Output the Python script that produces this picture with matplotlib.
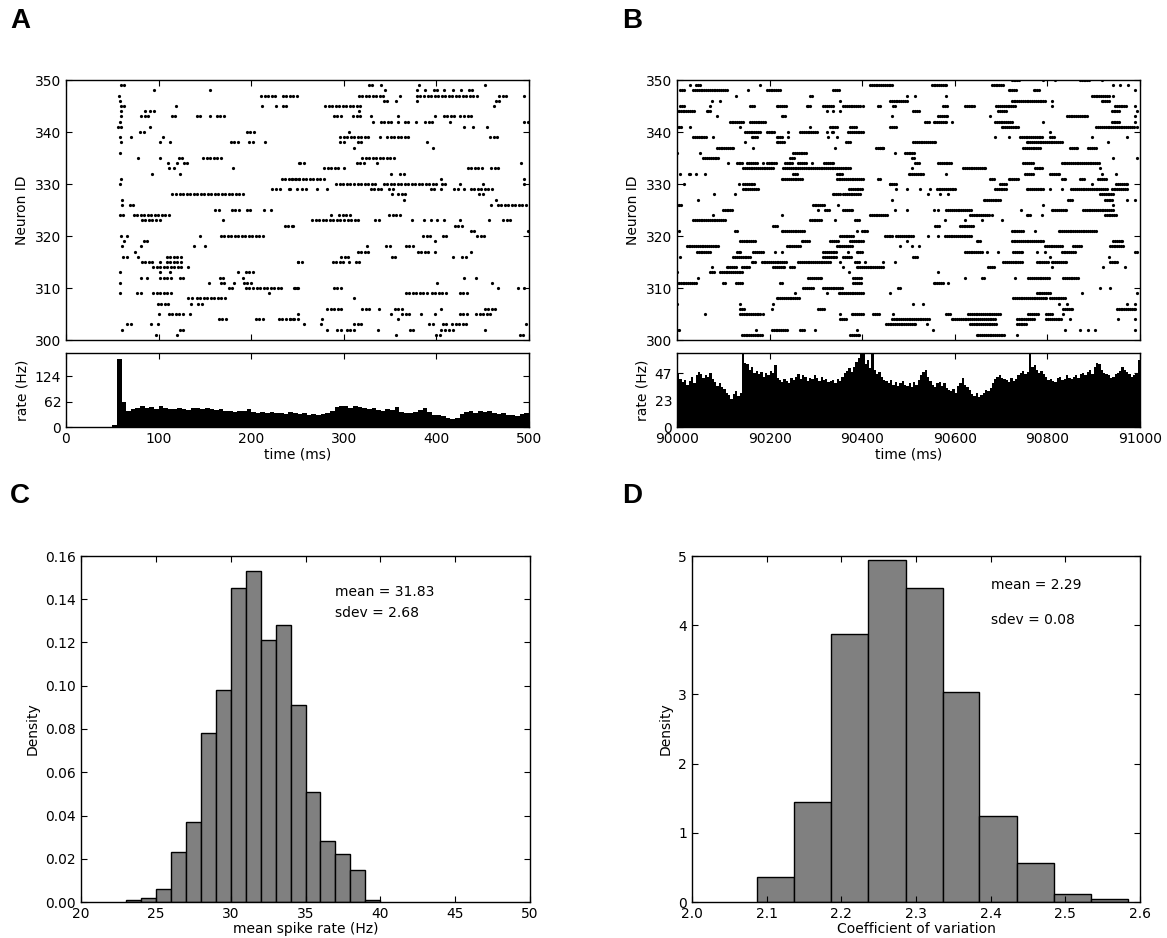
import numpy as np
import matplotlib
matplotlib.use("Agg")
import matplotlib.pyplot as plt
from matplotlib.ticker import FormatStrFormatter

# --- raster A: spike runs (neuron id, first spike ms, last spike ms) ---
raster_a_bursts = [
    (349, 59, 63), (348, 95, 95), (348, 156, 156), (347, 57, 57), (347, 211, 227), (347, 234, 250),
    (346, 58, 58), (345, 59, 64), (345, 119, 119), (345, 212, 212), (345, 227, 227), (345, 234, 239),
    (344, 59, 59), (344, 85, 85), (344, 91, 96), (343, 59, 59), (343, 81, 91), (343, 114, 121),
    (343, 141, 146), (343, 155, 155), (343, 163, 172), (342, 58, 58), (341, 56, 62), (341, 91, 91),
    (340, 80, 84), (340, 195, 203), (339, 58, 58), (339, 70, 70), (339, 105, 105), (338, 59, 59),
    (338, 102, 105), (338, 112, 112), (338, 178, 187), (338, 198, 203), (338, 215, 215), (336, 58, 58),
    (335, 78, 78), (335, 101, 101), (335, 122, 128), (335, 148, 167), (334, 110, 110), (334, 120, 120),
    (334, 127, 131), (334, 252, 252), (333, 111, 111), (333, 117, 117), (333, 180, 180), (332, 93, 93),
    (332, 123, 123), (331, 59, 59), (331, 233, 252), (330, 58, 58), (329, 223, 232), (329, 241, 241),
    (328, 115, 192), (327, 60, 60), (326, 60, 60), (326, 69, 76), (325, 161, 165), (325, 179, 188),
    (325, 195, 199), (325, 214, 214), (325, 221, 221), (324, 58, 62), (324, 73, 111),
    (323, 82, 104), (323, 170, 170), (322, 236, 245), (320, 59, 59), (320, 66, 66), (320, 145, 145),
    (320, 167, 215), (319, 63, 66), (319, 84, 91), (318, 60, 60), (318, 81, 81), (318, 138, 138),
    (318, 150, 150), (317, 75, 78), (316, 62, 67), (316, 78, 78), (316, 109, 124), (315, 82, 96),
    (315, 102, 102), (315, 109, 124), (315, 251, 251), (314, 94, 125), (314, 132, 132), (313, 58, 58),
    (313, 102, 105), (313, 112, 112), (313, 186, 186), (313, 194, 203), (312, 81, 81), (312, 87, 87),
    (312, 102, 114), (312, 123, 130), (312, 166, 170), (312, 191, 191), (311, 58, 58), (311, 154, 154),
    (311, 167, 173), (311, 181, 181), (311, 192, 201), (310, 176, 183), (310, 194, 202), (310, 206, 234),
    (310, 246, 251), (309, 58, 58), (309, 77, 84), (309, 94, 113), (309, 219, 219), (308, 132, 136),
    (308, 141, 172), (307, 99, 110), (307, 135, 135), (307, 143, 147), (305, 100, 100), (305, 111, 122),
    (305, 126, 126), (305, 134, 134), (304, 165, 174), (304, 205, 214), (304, 230, 246), (304, 251, 251),
    (303, 66, 73), (303, 92, 92), (303, 99, 99), (302, 61, 61), (302, 123, 129), (301, 97, 97),
    (301, 120, 120),
    (349, 327, 331), (349, 340, 340), (349, 381, 381), (349, 452, 452), (348, 345, 348), (348, 379, 379),
    (348, 388, 388), (348, 397, 404), (348, 408, 408), (348, 418, 418), (348, 427, 427), (348, 435, 439),
    (347, 316, 344), (347, 361, 361), (347, 379, 446), (347, 468, 478), (347, 495, 495), (346, 343, 347),
    (346, 356, 356), (346, 379, 379), (346, 464, 469), (345, 280, 318), (345, 462, 462), (344, 316, 316),
    (343, 289, 297), (343, 310, 318), (343, 329, 329), (343, 359, 359), (343, 398, 398), (343, 408, 419),
    (343, 426, 437), (342, 331, 331), (342, 340, 352), (342, 359, 359), (342, 366, 371), (342, 378, 381),
    (342, 388, 397), (342, 415, 415), (342, 495, 499), (341, 430, 430), (341, 439, 439), (341, 455, 455),
    (340, 306, 309), (339, 296, 328), (339, 339, 339), (339, 347, 372), (339, 458, 467), (338, 296, 300),
    (338, 315, 319), (338, 390, 390), (337, 311, 311), (337, 396, 396), (335, 320, 354), (334, 253, 257),
    (334, 314, 324), (334, 336, 336), (334, 491, 491), (333, 279, 295), (333, 300, 300), (333, 434, 452),
    (333, 459, 467), (332, 351, 354), (332, 361, 365), (331, 244, 281), (331, 405, 405), (331, 495, 495),
    (330, 292, 337), (330, 343, 401), (330, 406, 410), (330, 425, 428), (330, 450, 450), (330, 495, 495),
    (329, 242, 242), (329, 249, 249), (329, 255, 259), (329, 271, 271), (329, 282, 282), (329, 329, 343),
    (329, 349, 354), (329, 394, 398), (329, 405, 405), (329, 419, 423), (329, 430, 430), (329, 437, 461),
    (328, 352, 352), (328, 359, 368), (328, 446, 451), (327, 365, 365), (327, 464, 464), (326, 459, 459),
    (326, 466, 498), (324, 286, 286), (324, 295, 306), (324, 349, 360),
    (323, 266, 318), (323, 334, 339), (323, 374, 374), (323, 387, 387), (323, 394, 394), (323, 401, 401),
    (323, 408, 408), (323, 425, 428), (323, 457, 457), (323, 472, 481), (322, 245, 245), (322, 420, 429),
    (321, 437, 442), (321, 499, 499), (320, 386, 394), (320, 407, 414), (320, 444, 453), (319, 399, 399),
    (318, 325, 325), (318, 346, 350), (318, 367, 376), (317, 315, 328), (317, 380, 393), (317, 399, 399),
    (317, 437, 437), (316, 297, 307), (316, 352, 358), (316, 418, 418), (316, 428, 434), (315, 251, 257),
    (315, 288, 302), (315, 306, 306), (315, 313, 318), (312, 430, 430), (312, 443, 443), (311, 401, 401),
    (311, 460, 460), (310, 247, 253), (310, 289, 298), (310, 466, 466), (310, 488, 488), (310, 495, 495),
    (309, 367, 390), (309, 395, 410), (309, 425, 434), (308, 311, 311), (306, 282, 300), (306, 320, 329),
    (306, 338, 338), (306, 355, 365), (306, 405, 405), (306, 452, 464), (305, 250, 253), (305, 351, 351),
    (305, 363, 371), (305, 383, 383), (305, 398, 398), (305, 425, 434), (305, 443, 461), (304, 242, 249),
    (304, 276, 276), (304, 358, 358), (303, 257, 257), (303, 275, 275), (303, 311, 320), (303, 392, 397),
    (303, 407, 412), (303, 417, 433), (303, 497, 497), (302, 282, 282), (302, 293, 297), (302, 303, 311),
    (302, 337, 337), (302, 371, 376), (302, 405, 409), (302, 414, 418), (302, 452, 452), (301, 356, 356),
    (301, 400, 404), (301, 490, 494),
]

# --- raster B: same layout, times in ms after 90000 ---
raster_b_start = 90000
raster_b_bursts = [
    (349, 28, 28), (349, 42, 50), (349, 179, 179), (348, 7, 17), (348, 35, 107), (348, 154, 154),
    (348, 194, 222), (348, 338, 353), (349, 417, 467), (347, 128, 128), (347, 287, 294), (346, 75, 75),
    (346, 93, 93), (346, 352, 352), (345, 7, 17), (345, 71, 71), (345, 158, 168), (345, 215, 237),
    (345, 280, 290), (345, 316, 338), (345, 359, 395), (345, 402, 402), (345, 435, 435), (344, 0, 39),
    (344, 64, 75), (344, 323, 323), (344, 338, 338), (344, 353, 353), (343, 87, 87), (343, 226, 237),
    (342, 114, 143), (342, 158, 190), (341, 0, 10), (341, 27, 27), (341, 135, 135), (341, 287, 287),
    (341, 330, 348), (341, 374, 388), (340, 147, 179), (340, 194, 212), (340, 240, 240), (340, 266, 305),
    (340, 325, 325), (340, 334, 341), (340, 370, 402), (339, 35, 64), (339, 77, 77), (339, 161, 176),
    (339, 215, 230), (339, 240, 240), (339, 327, 327), (339, 345, 345), (338, 147, 147), (338, 215, 233),
    (338, 366, 377), (337, 86, 125), (337, 165, 165), (337, 341, 341), (337, 430, 446), (336, 0, 0),
    (336, 50, 50), (336, 251, 280), (335, 57, 89), (335, 244, 255), (334, 111, 111), (334, 129, 143),
    (334, 152, 172), (334, 185, 185), (334, 194, 215), (334, 233, 251), (334, 262, 280), (334, 291, 294),
    (334, 318, 338), (333, 143, 208), (333, 230, 374), (332, 7, 7), (332, 25, 32), (332, 41, 41),
    (332, 61, 61), (332, 251, 262), (332, 345, 359), (331, 226, 273), (331, 345, 402), (331, 435, 435),
    (330, 15, 15), (330, 133, 133), (330, 143, 168), (330, 459, 459), (329, 142, 176), (329, 372, 402),
    (328, 80, 80), (328, 125, 125), (328, 336, 352), (328, 359, 395), (327, 46, 46), (326, 0, 10),
    (326, 293, 320), (326, 348, 348), (325, 99, 122), (325, 305, 305), (325, 320, 330), (325, 359, 381),
    (349, 550, 582), (349, 680, 705), (350, 723, 741), (350, 791, 791), (350, 816, 816), (350, 870, 892),
    (350, 917, 917), (349, 942, 942), (349, 957, 957), (349, 975, 975), (348, 716, 734), (348, 770, 784),
    (348, 989, 989), (347, 496, 496), (347, 514, 514), (347, 582, 582), (347, 896, 935), (347, 942, 942),
    (346, 460, 496), (346, 723, 798), (346, 809, 809), (346, 917, 935), (345, 438, 438), (345, 467, 474),
    (345, 575, 586), (345, 622, 644), (345, 690, 730), (345, 809, 809), (345, 946, 971), (345, 989, 989),
    (344, 510, 525), (344, 694, 712), (344, 939, 957), (344, 993, 993), (343, 464, 464), (343, 564, 586),
    (343, 676, 676), (343, 842, 888), (343, 989, 989), (342, 536, 546), (342, 554, 582), (342, 593, 593),
    (342, 687, 726), (342, 791, 791), (342, 939, 957), (342, 989, 989), (341, 460, 474), (341, 701, 737),
    (341, 906, 986), (341, 993, 993), (340, 806, 806), (339, 687, 687), (339, 716, 716), (339, 741, 791),
    (339, 806, 816), (339, 896, 896), (339, 971, 971), (338, 510, 561), (338, 755, 831), (338, 931, 931),
    (337, 438, 446), (337, 748, 784), (337, 849, 867), (337, 888, 906), (336, 471, 471), (336, 492, 514),
    (335, 507, 514), (335, 942, 942), (335, 993, 993), (334, 514, 525), (334, 564, 593), (334, 748, 770),
    (334, 831, 914), (333, 507, 507), (333, 618, 669), (333, 773, 791), (333, 914, 914), (332, 500, 532),
    (332, 582, 582), (332, 752, 770), (332, 806, 827), (332, 917, 917), (332, 949, 949), (331, 438, 438),
    (331, 676, 687), (331, 716, 737), (331, 831, 842), (331, 870, 881), (331, 910, 928), (330, 460, 474),
    (330, 698, 712), (330, 896, 896), (330, 949, 975), (329, 474, 474), (329, 496, 496), (329, 525, 525),
    (329, 546, 546), (329, 561, 604), (329, 687, 712), (329, 755, 791), (329, 806, 806), (329, 831, 831),
    (329, 852, 928), (329, 939, 971), (328, 543, 543), (328, 568, 568), (328, 586, 586), (328, 914, 942),
    (327, 464, 464), (327, 662, 701), (327, 845, 856), (327, 924, 942), (327, 971, 971), (327, 989, 989),
    (326, 791, 791), (326, 942, 942), (325, 471, 471), (325, 496, 496), (325, 554, 554), (325, 564, 564),
    (325, 582, 636), (325, 744, 744), (325, 809, 842), (325, 877, 942),
    (324, 77, 77), (324, 226, 226), (324, 417, 456), (324, 633, 676), (324, 680, 680), (324, 755, 766),
    (324, 788, 788), (324, 924, 950), (323, 35, 104), (323, 287, 312), (323, 341, 341), (323, 385, 395),
    (323, 579, 579), (323, 622, 622), (323, 658, 658), (323, 703, 703), (322, 208, 219), (322, 557, 568),
    (322, 611, 640), (321, 5, 5), (321, 125, 132), (321, 226, 277), (321, 388, 388), (321, 399, 413),
    (321, 723, 748), (321, 773, 773), (321, 824, 906), (320, 352, 381), (320, 449, 467), (320, 474, 510),
    (320, 543, 543), (320, 564, 564), (320, 579, 636), (319, 136, 169), (319, 269, 287), (319, 331, 349),
    (319, 374, 402), (319, 496, 496), (319, 647, 658), (319, 723, 791), (319, 942, 964), (318, 21, 89),
    (318, 237, 266), (318, 345, 377), (318, 482, 482), (318, 507, 507), (318, 523, 523), (318, 795, 834),
    (318, 856, 874), (318, 935, 964), (317, 43, 71), (317, 129, 140), (317, 165, 187), (317, 212, 212),
    (317, 226, 226), (317, 316, 345), (317, 370, 370), (317, 388, 402), (317, 622, 658), (317, 669, 669),
    (317, 694, 694), (317, 726, 748), (317, 777, 777), (317, 795, 795), (317, 831, 860), (317, 989, 993),
    (316, 7, 7), (316, 122, 158), (316, 316, 345), (316, 359, 377), (316, 510, 521), (316, 806, 806),
    (316, 932, 932), (315, 161, 172), (315, 183, 237), (315, 262, 331), (315, 352, 352), (315, 385, 395),
    (315, 406, 406), (315, 446, 449), (315, 471, 471), (315, 705, 748), (315, 777, 802), (315, 809, 842),
    (315, 935, 953), (314, 75, 75), (314, 107, 129), (314, 140, 158), (314, 208, 233), (314, 244, 255),
    (314, 359, 359), (314, 388, 446), (314, 672, 687), (314, 809, 809), (314, 921, 921), (314, 968, 968),
    (313, 0, 0), (313, 71, 82), (313, 93, 143), (313, 372, 372), (313, 564, 564), (312, 46, 46),
    (312, 284, 313), (312, 381, 399), (312, 622, 622), (312, 658, 665), (312, 730, 730), (312, 759, 806),
    (312, 834, 867), (311, 0, 43), (311, 100, 107), (311, 128, 143), (311, 223, 230), (311, 381, 399),
    (311, 554, 575), (311, 586, 586), (310, 273, 295), (310, 316, 359), (310, 478, 485), (310, 914, 914),
    (310, 935, 935), (309, 255, 255), (309, 323, 323), (309, 349, 402), (309, 460, 460), (309, 777, 806),
    (309, 874, 874), (309, 993, 993), (308, 215, 266), (308, 726, 798), (308, 806, 838), (307, 0, 0),
    (307, 136, 136), (307, 208, 208), (307, 510, 510), (307, 532, 532), (307, 824, 824), (307, 842, 842),
    (307, 971, 971), (307, 989, 989), (306, 136, 147), (306, 205, 205), (306, 305, 320), (306, 834, 856),
    (306, 950, 993), (305, 61, 61), (305, 136, 183), (305, 186, 186), (305, 353, 353), (305, 377, 402),
    (305, 424, 438), (305, 467, 467), (305, 582, 593), (305, 629, 698), (305, 759, 780), (305, 798, 813),
    (305, 834, 834), (304, 352, 367), (304, 464, 546), (304, 593, 647), (304, 651, 687), (304, 734, 770),
    (304, 798, 831), (304, 849, 849), (304, 953, 953), (304, 989, 989), (303, 451, 518), (303, 539, 539),
    (303, 633, 690), (303, 734, 755), (302, 0, 7), (302, 171, 171), (302, 205, 237), (302, 266, 277),
    (302, 297, 297), (302, 388, 388), (302, 552, 552), (302, 838, 838), (302, 870, 870), (302, 888, 888),
    (302, 903, 903), (302, 989, 989), (301, 140, 187), (301, 374, 395), (301, 647, 708), (301, 734, 734),
]

# --- population rate, 5 ms bins ---
rate_binwidth = 5.0
rate_a = [
    0, 0, 0, 0, 0, 0, 0, 0, 0, 0,
    5, 165, 60, 38, 44, 47, 52, 46, 48, 44,
    50, 45, 44, 43, 46, 44, 42, 45, 47, 43,
    46, 44, 41, 43, 38, 40, 37, 40, 38, 43,
    36, 35, 37, 34, 36, 33, 35, 32, 36, 33,
    31, 34, 30, 32, 29, 31, 33, 38, 48, 52,
    50, 47, 51, 49, 46, 44, 47, 42, 40, 43,
    41, 48, 37, 35, 33, 36, 42, 45, 36, 30,
    28, 26, 22, 19, 21, 32, 36, 38, 35, 40,
    37, 39, 34, 31, 33, 29, 30, 27, 31, 33,
]
rate_b = [
    47, 42, 39, 41, 37, 40, 44, 38, 45, 48,
    46, 43, 45, 44, 47, 42, 39, 36, 38, 35,
    33, 30, 28, 24, 29, 31, 27, 30, 64, 56,
    55, 50, 52, 47, 49, 46, 48, 44, 47, 45,
    49, 47, 54, 43, 41, 39, 42, 40, 38, 43,
    41, 44, 46, 42, 45, 44, 40, 43, 42, 45,
    43, 40, 44, 41, 42, 39, 40, 41, 38, 42,
    40, 44, 47, 49, 51, 48, 52, 57, 60, 64,
    64, 55, 58, 51, 64, 50, 46, 48, 44, 41,
    40, 38, 41, 37, 39, 36, 38, 40, 37, 36,
    38, 35, 39, 37, 41, 45, 48, 50, 44, 40,
    37, 35, 38, 39, 36, 38, 34, 32, 31, 33,
    30, 36, 38, 43, 37, 35, 32, 29, 27, 30,
    26, 28, 30, 32, 31, 34, 38, 42, 44, 45,
    43, 42, 41, 39, 43, 40, 42, 45, 47, 49,
    46, 48, 64, 52, 54, 50, 47, 49, 46, 44,
    41, 42, 40, 39, 43, 44, 41, 42, 45, 43,
    42, 44, 45, 43, 46, 47, 45, 48, 50, 46,
    52, 56, 55, 50, 47, 46, 45, 43, 44, 46,
    47, 49, 52, 50, 48, 46, 44, 45, 47, 58,
]

# --- histograms C and D ---
rate_hist_edges = list(range(23, 41))
rate_hist_density = [0.001, 0.002, 0.006, 0.023, 0.037, 0.078, 0.098, 0.145, 0.153,
                     0.121, 0.128, 0.091, 0.051, 0.028, 0.022, 0.015, 0.001]
cv_hist_edges = [2.087, 2.137, 2.186, 2.236, 2.286, 2.336, 2.385, 2.435, 2.485, 2.534, 2.584]
cv_hist_density = [0.36, 1.45, 3.87, 4.94, 4.54, 3.03, 1.25, 0.56, 0.12, 0.04]

plt.rcParams.update({
    "font.family": "DejaVu Sans",
    "font.size": 10,
    "xtick.direction": "in",
    "ytick.direction": "in",
    "xtick.top": True,
    "ytick.right": True,
    "xtick.major.size": 4,
    "ytick.major.size": 4,
    "axes.linewidth": 1.0,
})

W, H = 1167, 938
fig = plt.figure(figsize=(W / 100, H / 100), dpi=100)


def px_axes(left, top, right, bottom):
    return fig.add_axes([left / W, 1 - bottom / H, (right - left) / W, (bottom - top) / H])


def expand(bursts, step, offset=0.0):
    ids, times = [], []
    for nid, t0, t1 in bursts:
        for t in np.arange(t0, t1 + 0.5, step):
            ids.append(nid)
            times.append(offset + t)
    return np.array(times), np.array(ids)


def raster(ax, bursts, step, offset, xlim, xticks):
    t, n = expand(bursts, step, offset)
    ax.plot(t, n, "o", color="black", markersize=2.3, markeredgewidth=0)
    ax.set_xlim(*xlim)
    ax.set_ylim(300, 350)
    ax.set_xticks(xticks)
    ax.set_xticklabels([])
    ax.set_yticks(range(300, 351, 10))
    ax.set_ylabel("Neuron ID")


def rate(ax, values, start, xlim, xticks, ylim, yticks):
    edges = start + rate_binwidth * np.arange(len(values) + 1)
    # one filled outline, so neighbouring bins leave no hairline gaps
    ax.stairs(values, edges, fill=True, color="black", linewidth=0)
    ax.set_xlim(*xlim)
    ax.set_ylim(*ylim)
    ax.set_xticks(xticks)
    ax.set_yticks(yticks)
    ax.set_xlabel("time (ms)", labelpad=1)
    ax.set_ylabel("rate (Hz)")


# A
ax = px_axes(66, 80, 529, 340)
raster(ax, raster_a_bursts, 3.8, 0, (0, 500), range(0, 501, 100))
ax = px_axes(66, 353, 529, 427)
rate(ax, rate_a, 0, (0, 500), range(0, 501, 100), (0, 180), [0, 62, 124])

# B
ax = px_axes(677, 80, 1140, 340)
raster(ax, raster_b_bursts, 4.0, raster_b_start, (90000, 91000), range(90000, 91001, 200))
ax = px_axes(677, 353, 1140, 427)
rate(ax, rate_b, raster_b_start, (90000, 91000), range(90000, 91001, 200), (0, 64.5), [0, 23, 47])

# C
ax = px_axes(81, 556, 530, 902)
ax.bar(rate_hist_edges[:-1], rate_hist_density, width=np.diff(rate_hist_edges), align="edge",
       color="0.5", edgecolor="black", linewidth=1)
ax.set_xlim(20, 50)
ax.set_ylim(0, 0.16)
ax.set_yticks(np.arange(0, 0.161, 0.02))
ax.yaxis.set_major_formatter(FormatStrFormatter("%.2f"))
ax.set_xlabel("mean spike rate (Hz)", labelpad=1)
ax.set_ylabel("Density")
ax.text(37.0, 0.1435, "mean = 31.83", va="center")
ax.text(37.0, 0.1335, "sdev = 2.68", va="center")

# D
ax = px_axes(692, 556, 1140, 902)
ax.bar(cv_hist_edges[:-1], cv_hist_density, width=np.diff(cv_hist_edges), align="edge",
       color="0.5", edgecolor="black", linewidth=1)
ax.set_xlim(2.0, 2.6)
ax.set_ylim(0, 5)
ax.set_xticks(np.arange(2.0, 2.61, 0.1))
ax.xaxis.set_major_formatter(FormatStrFormatter("%.1f"))
ax.set_xlabel("Coefficient of variation", labelpad=1)
ax.set_ylabel("Density")
ax.text(2.4, 4.58, "mean = 2.29", va="center")
ax.text(2.4, 4.07, "sdev = 0.08", va="center")

for label, x, y in [("A", 10, 8), ("B", 622, 8), ("C", 10, 483), ("D", 622, 483)]:
    fig.text(x / W, 1 - y / H, label, fontsize=20, fontweight="bold",
             family="Liberation Sans", va="top", ha="left")

fig.savefig("out.png", dpi=100)
